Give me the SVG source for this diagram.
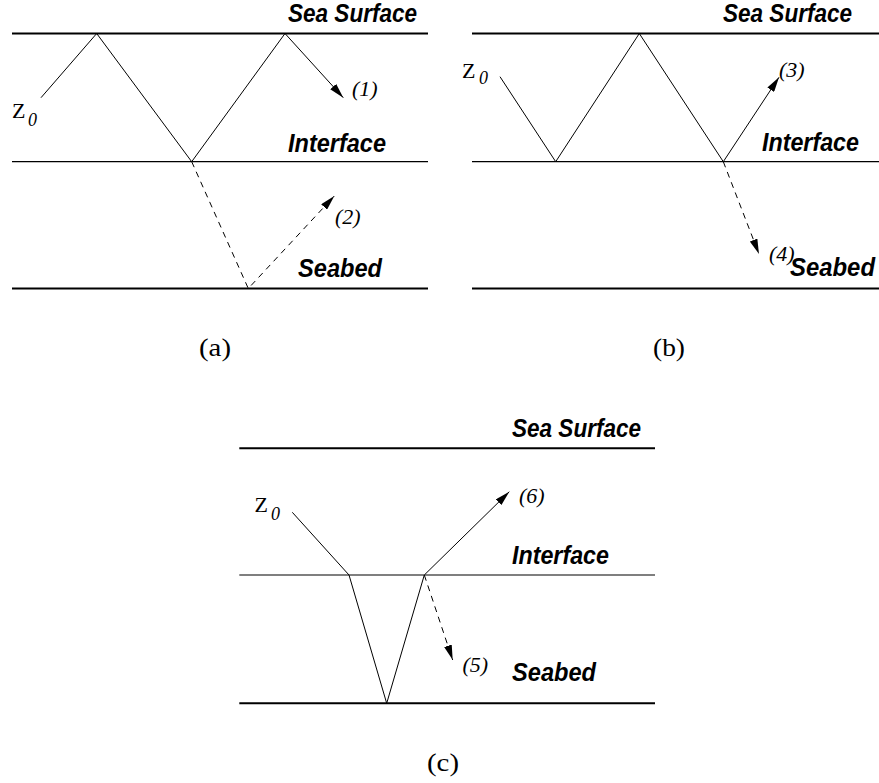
<svg xmlns="http://www.w3.org/2000/svg" width="879" height="783" viewBox="0 0 879 783">
<style>
.bg{fill:#fff}
.thick{stroke:#000;stroke-width:2;fill:none}
.thin{stroke:#000;stroke-width:1.2;fill:none}
.ray{stroke:#000;stroke-width:1;fill:none}
.dash{stroke:#000;stroke-width:1;fill:none;stroke-dasharray:6,5}
.lab{font-family:"Liberation Sans",Arial,sans-serif;font-weight:bold;font-style:italic;font-size:25px;fill:#000}
.num{font-family:"Liberation Serif","Times New Roman",serif;font-style:italic;font-size:22px;fill:#000}
.z{font-family:"Liberation Serif","Times New Roman",serif;font-size:22px;fill:#000}
.zs{font-family:"Liberation Serif","Times New Roman",serif;font-style:italic;font-size:18px;fill:#000}
.cap{font-family:"Liberation Serif","Times New Roman",serif;font-size:26px;fill:#000}
</style>
<defs>
<marker id="ah" markerWidth="15" markerHeight="8" refX="15" refY="4" orient="auto" markerUnits="userSpaceOnUse">
<path d="M0,0 L15,4 L0,8 z" fill="#000" stroke="none"/>
</marker>
</defs>
<rect class="bg" x="0" y="0" width="879" height="783"/>

<g id="panel-a">
<g id="a-boundaries">
<line class="thick" x1="12" y1="33.5" x2="428" y2="33.5"/>
<line class="thin" x1="12" y1="161.7" x2="428" y2="161.7"/>
<line class="thick" x1="12" y1="288.5" x2="428" y2="288.5"/>
</g>
<g id="a-labels">
<text class="lab" x="288" y="22" textLength="129" lengthAdjust="spacingAndGlyphs">Sea Surface</text>
<text class="lab" x="288" y="151.5" textLength="98" lengthAdjust="spacingAndGlyphs">Interface</text>
<text class="lab" x="298" y="277" textLength="84" lengthAdjust="spacingAndGlyphs">Seabed</text>
<text class="z" x="12" y="118">Z</text>
<text class="zs" x="28" y="126">0</text>
<text class="num" x="352" y="96">(1)</text>
<text class="num" x="335" y="224">(2)</text>
<text class="cap" x="215" y="356" text-anchor="middle" textLength="32" lengthAdjust="spacingAndGlyphs">(a)</text>
</g>
<g id="a-rays">
<polyline class="ray" points="41,97.7 96.7,33.5 191.7,161.7 285,33.5 343.3,97.7" marker-end="url(#ah)"/>
<polyline class="dash" points="191.7,161.7 248.3,288.5 334.3,196" marker-end="url(#ah)"/>
</g>
</g>

<g id="panel-b">
<g id="b-boundaries">
<line class="thick" x1="472" y1="33.5" x2="879" y2="33.5"/>
<line class="thin" x1="472" y1="161.7" x2="879" y2="161.7"/>
<line class="thick" x1="472" y1="288.5" x2="879" y2="288.5"/>
</g>
<g id="b-labels">
<text class="lab" x="723" y="22" textLength="129" lengthAdjust="spacingAndGlyphs">Sea Surface</text>
<text class="lab" x="762" y="151" textLength="97" lengthAdjust="spacingAndGlyphs">Interface</text>
<text class="lab" x="790" y="276" textLength="85" lengthAdjust="spacingAndGlyphs">Seabed</text>
<text class="z" x="462" y="77.5">Z</text>
<text class="zs" x="479" y="84">0</text>
<text class="num" x="779" y="77">(3)</text>
<text class="num" x="769" y="261">(4)</text>
<text class="cap" x="669" y="356" text-anchor="middle" textLength="32" lengthAdjust="spacingAndGlyphs">(b)</text>
</g>
<g id="b-rays">
<polyline class="ray" points="500,76.7 555.7,161.7 639.3,33.5 723.3,161.7 779,77.3" marker-end="url(#ah)"/>
<polyline class="dash" points="723.3,161.7 759,254" marker-end="url(#ah)"/>
</g>
</g>

<g id="panel-c">
<g id="c-boundaries">
<line class="thick" x1="239.3" y1="448.3" x2="655" y2="448.3"/>
<line class="thin" x1="239.3" y1="575" x2="655" y2="575"/>
<line class="thick" x1="239.3" y1="703.3" x2="655" y2="703.3"/>
</g>
<g id="c-labels">
<text class="lab" x="512" y="437" textLength="129" lengthAdjust="spacingAndGlyphs">Sea Surface</text>
<text class="lab" x="512" y="564" textLength="97" lengthAdjust="spacingAndGlyphs">Interface</text>
<text class="lab" x="512" y="681" textLength="84" lengthAdjust="spacingAndGlyphs">Seabed</text>
<text class="z" x="254.5" y="512">Z</text>
<text class="zs" x="271" y="519.5">0</text>
<text class="num" x="519" y="503">(6)</text>
<text class="num" x="462.5" y="672">(5)</text>
<text class="cap" x="443" y="771" text-anchor="middle" textLength="32" lengthAdjust="spacingAndGlyphs">(c)</text>
</g>
<g id="c-rays">
<polyline class="ray" points="292.3,512.3 349,575 386.7,703.3 424.3,575 509.3,491.7" marker-end="url(#ah)"/>
<polyline class="dash" points="424.3,575 452.7,660" marker-end="url(#ah)"/>
</g>
</g>
</svg>
